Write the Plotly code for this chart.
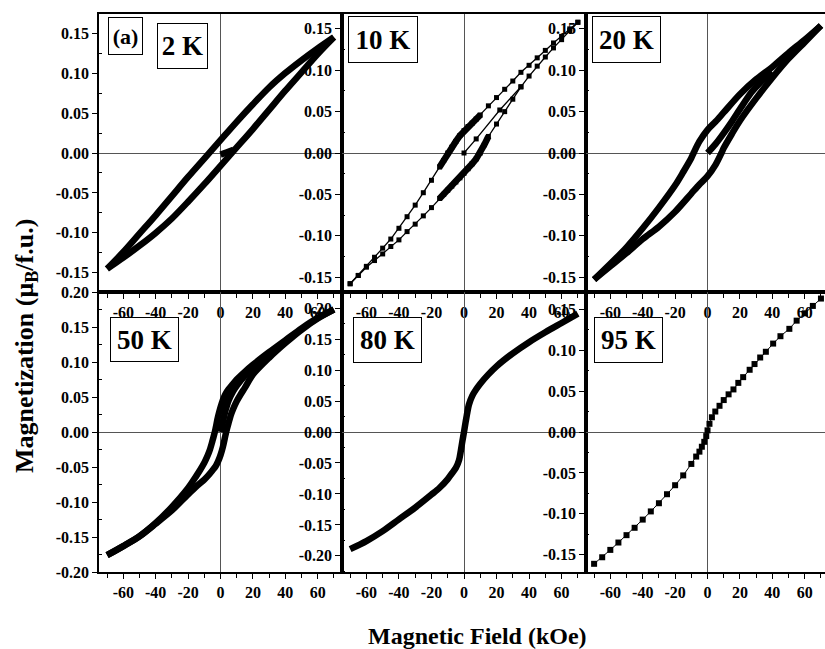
import plotly.graph_objects as go
from plotly.subplots import make_subplots

# ---------------- data ----------------
# 2 K
h2_down = [70, 60, 50, 40, 30, 20, 10, 0, -10, -20, -30, -40, -50, -60, -70]
m2_down = [0.145, 0.131, 0.116, 0.100, 0.082, 0.061, 0.039, 0.016, -0.007, -0.030,
           -0.054, -0.078, -0.101, -0.124, -0.145]
h2_up = [-70, -60, -50, -40, -30, -20, -10, 0, 10, 20, 30, 40, 50, 60, 70]
m2_up = [-0.145, -0.131, -0.116, -0.100, -0.082, -0.061, -0.039, -0.016, 0.007, 0.030,
         0.054, 0.078, 0.101, 0.124, 0.145]
h2_virgin = [0, 4, 8]
m2_virgin = [-0.002, 0.001, 0.004]

# 10 K
h10_down = [70, 65, 60, 55, 50, 45, 40, 35, 30, 25, 20, 15, 10, 7.5, 5, 2.5, 0, -2.5, -5,
            -7.5, -10, -12.5, -15, -20, -25, -30, -35, -40, -45, -50, -55, -60, -65, -70]
m10_down = [0.158, 0.150, 0.141, 0.133, 0.124, 0.115, 0.106, 0.0975, 0.087, 0.077, 0.067,
            0.057, 0.046, 0.041, 0.036, 0.032, 0.027, 0.021, 0.014, 0.007, 0.000, -0.009,
            -0.017, -0.033, -0.048, -0.063, -0.077, -0.091, -0.104, -0.115, -0.126, -0.137,
            -0.148, -0.158]
h10_up = [-70, -65, -60, -55, -50, -45, -40, -35, -30, -25, -20, -15, -12.5, -10, -7.5, -5,
          -2.5, 0, 2.5, 5, 7.5, 10, 12.5, 15, 20, 25, 30, 35, 40, 45, 50, 55, 60, 65, 70]
m10_up = [-0.158, -0.148, -0.138, -0.130, -0.122, -0.113, -0.105, -0.095, -0.086, -0.076,
          -0.066, -0.055, -0.050, -0.045, -0.040, -0.035, -0.030, -0.0245, -0.019, -0.013,
          -0.007, 0.000, 0.010, 0.020, 0.035, 0.050, 0.065, 0.080, 0.093, 0.105, 0.116,
          0.127, 0.137, 0.148, 0.158]
h10_virgin = [0, 7.5, 22, 35]
m10_virgin = [0.0, 0.017, 0.052, 0.080]

# 20 K
h20_down = [70, 60, 50, 40, 30, 20, 10, 5, 0, -5, -8.6, -10, -15, -20, -30, -40, -50, -60, -70]
m20_down = [0.154, 0.137, 0.121, 0.104, 0.089, 0.071, 0.049, 0.038, 0.028, 0.014, 0.000,
            -0.006, -0.023, -0.039, -0.066, -0.091, -0.114, -0.134, -0.153]
h20_up = [-70, -60, -50, -40, -30, -20, -10, -5, 0, 5, 8.6, 10, 15, 20, 30, 40, 50, 60, 70]
m20_up = [-0.153, -0.137, -0.121, -0.104, -0.089, -0.071, -0.049, -0.038, -0.028, -0.014,
          0.000, 0.006, 0.023, 0.039, 0.066, 0.091, 0.114, 0.134, 0.154]
h20_virgin = [0, 5, 10, 15, 20, 27, 33, 40]
m20_virgin = [0.0, 0.011, 0.024, 0.038, 0.053, 0.073, 0.086, 0.098]

# 50 K
h50_down = [70, 60, 50, 40, 30, 20, 15, 10, 7.5, 5, 3, 1.5, 0, -1.5, -3.5, -5, -6.5, -8, -10,
            -12.5, -15, -20, -30, -40, -50, -60, -70]
m50_down = [0.175, 0.163, 0.148, 0.131, 0.114, 0.096, 0.086, 0.075, 0.068, 0.061, 0.054,
            0.046, 0.035, 0.022, 0.000, -0.013, -0.025, -0.034, -0.044, -0.054, -0.063,
            -0.080, -0.107, -0.130, -0.149, -0.163, -0.176]
h50_up = [-70, -60, -50, -40, -30, -20, -15, -10, -7.5, -5, -3, -1.5, 0, 1.5, 3.5, 5, 6.5,
          8, 10, 12.5, 15, 20, 30, 40, 50, 60, 70]
m50_up = [-0.176, -0.163, -0.149, -0.131, -0.112, -0.089, -0.078, -0.068, -0.062, -0.055,
          -0.049, -0.042, -0.033, -0.021, 0.000, 0.013, 0.025, 0.034, 0.044, 0.054,
          0.063, 0.082, 0.106, 0.127, 0.146, 0.162, 0.175]
h50_virgin = [0, 1.5, 3, 5, 7.5, 10, 15, 20, 30]
m50_virgin = [0.0, 0.015, 0.030, 0.045, 0.057, 0.066, 0.080, 0.090, 0.110]

# 80 K
h80 = [-70, -60, -50, -40, -30, -20, -15, -10, -7.5, -5, -3, -2, -1, 0, 1, 2, 3, 5, 7.5, 10,
       15, 20, 30, 40, 50, 60, 70]
m80 = [-0.189, -0.176, -0.160, -0.141, -0.122, -0.101, -0.090, -0.076, -0.067, -0.058,
       -0.045, -0.031, -0.015, 0.000, 0.016, 0.031, 0.044, 0.058, 0.069, 0.078, 0.093,
       0.106, 0.127, 0.145, 0.161, 0.176, 0.191]

# 95 K
h95 = [-70, -65, -60, -55, -50, -45, -40, -35, -30, -25, -20, -15, -10, -7, -5, -3.5, -2,
       -0.8, 0, 1.2, 2.7, 4.8, 7.4, 10, 13, 16, 19, 22, 26, 29, 32.5, 36, 40.5, 45, 50.5,
       55, 60, 65, 70]
m95 = [-0.161, -0.153, -0.144, -0.135, -0.126, -0.117, -0.107, -0.097, -0.087, -0.076,
       -0.065, -0.053, -0.039, -0.030, -0.024, -0.018, -0.012, -0.005, 0.002, 0.010, 0.018,
       0.025, 0.032, 0.039, 0.046, 0.052, 0.060, 0.067, 0.076, 0.083, 0.091, 0.098, 0.108,
       0.117, 0.126, 0.136, 0.145, 0.154, 0.163]

panel_labels = ["2 K", "10 K", "20 K", "50 K", "80 K", "95 K"]

x_tick_vals = [-60, -40, -20, 0, 20, 40, 60]
x_tick_text = ["-60", "-40", "-20", "0", "20", "40", "60"]
x_minor_vals = [-70, -50, -30, -10, 10, 30, 50, 70]
y_tick_vals_15 = [-0.15, -0.10, -0.05, 0.00, 0.05, 0.10, 0.15]
y_tick_text_15 = ["-0.15", "-0.10", "-0.05", "0.00", "0.05", "0.10", "0.15"]
y_tick_vals_20 = [-0.20, -0.15, -0.10, -0.05, 0.00, 0.05, 0.10, 0.15, 0.20]
y_tick_text_20 = ["-0.20", "-0.15", "-0.10", "-0.05", "0.00", "0.05", "0.10", "0.15", "0.20"]
y_minor_vals = [-0.225, -0.175, -0.125, -0.075, -0.025, 0.025, 0.075, 0.125, 0.175, 0.225]

x_title = "Magnetic Field (kOe)"
y_title = "Magnetization (\u03bc<sub>B</sub>/f.u.)"

# ---------------- figure ----------------
W, H = 825, 649
L, R, T, B = 99, 0, 14, 77
FONT = "Times New Roman, Liberation Serif, Times, serif"

fig = make_subplots(rows=2, cols=3, horizontal_spacing=0, vertical_spacing=0,
                    column_widths=[243, 244, 239], row_heights=[278, 280])

thick = dict(color="black", width=6.5, shape="spline", smoothing=0.8)


def band(r, c, xs, ys):
    fig.add_trace(go.Scatter(x=xs, y=ys, mode="lines", line=thick, hoverinfo="skip"),
                  row=r, col=c)


def dotted(r, c, xs, ys, size=5, lw=1.3):
    fig.add_trace(go.Scatter(x=xs, y=ys, mode="lines+markers",
                             line=dict(color="black", width=lw),
                             marker=dict(symbol="square", size=size, color="black"),
                             hoverinfo="skip"), row=r, col=c)


# 2 K
band(1, 1, h2_virgin, m2_virgin)
band(1, 1, h2_down, m2_down)
band(1, 1, h2_up, m2_up)

# 10 K (sparse markers + dense central segments)
dotted(1, 2, h10_virgin, m10_virgin)
dotted(1, 2, h10_down, m10_down)
dotted(1, 2, h10_up, m10_up)
dd = [(h, m) for h, m in zip(h10_down, m10_down) if -15 <= h <= 10]
du = [(h, m) for h, m in zip(h10_up, m10_up) if -15 <= h <= 15]
for seg in (dd, du):
    fig.add_trace(go.Scatter(x=[p[0] for p in seg], y=[p[1] for p in seg], mode="lines",
                             line=dict(color="black", width=6.5), hoverinfo="skip"),
                  row=1, col=2)

# 20 K
band(1, 3, h20_virgin, m20_virgin)
band(1, 3, h20_down, m20_down)
band(1, 3, h20_up, m20_up)

# 50 K
band(2, 1, h50_virgin, m50_virgin)
band(2, 1, h50_down, m50_down)
band(2, 1, h50_up, m50_up)

# 80 K
band(2, 2, h80, m80)

# 95 K
dotted(2, 3, h95, m95, size=6, lw=1)

tickfont = dict(family=FONT, size=16, color="black", weight="bold")

y_ranges = {(1, 1): 0.174, (1, 2): 0.168, (1, 3): 0.168,
            (2, 1): 0.2000001, (2, 2): 0.226, (2, 3): 0.171}
x_ranges = {1: [-75, 75], 2: [-75, 75], 3: [-75, 72.5]}

for (r, c), yr in y_ranges.items():
    big = (r, c) in [(2, 1), (2, 2)]
    fig.update_xaxes(row=r, col=c, range=x_ranges[c], tickmode="array",
                     tickvals=x_tick_vals, ticktext=x_tick_text, ticks="outside",
                     ticklen=5, tickwidth=1, tickcolor="black", tickfont=tickfont,
                     showline=True, linecolor="black", linewidth=1.5, mirror=True,
                     showgrid=False, zeroline=True, zerolinecolor="#555",
                     zerolinewidth=1,
                     minor=dict(tickvals=x_minor_vals, ticks="outside", ticklen=4,
                                tickcolor="black", tickwidth=1, showgrid=False))
    fig.update_yaxes(row=r, col=c, range=[-yr, yr], tickmode="array",
                     tickvals=y_tick_vals_20 if big else y_tick_vals_15,
                     ticktext=y_tick_text_20 if big else y_tick_text_15,
                     ticks="outside", ticklen=5, tickwidth=1, tickcolor="black",
                     tickfont=tickfont, showline=True, linecolor="black", linewidth=1.5,
                     mirror=(c != 3), showgrid=False, zeroline=True,
                     zerolinecolor="#555", zerolinewidth=1,
                     minor=dict(tickvals=y_minor_vals, ticks="inside", ticklen=3,
                                tickcolor="black", tickwidth=1, showgrid=False))


def px(x):
    return (x - L) / (W - L - R)


def py(y):
    return (H - B - y) / (H - T - B)


# panel label boxes: (centre x, centre y, box width, box height) in pixels
label_boxes = [(182.5, 46, 51, 46), (383, 39.5, 70, 47), (626.5, 39.5, 69, 47),
               (144.5, 339.5, 69, 45), (387.5, 340, 69, 46), (628.5, 340, 69, 46)]
annotations = []
for txt, (cx, cy, bw, bh) in zip(panel_labels, label_boxes):
    annotations.append(dict(text=txt, x=px(cx), y=py(cy), xref="paper", yref="paper",
                            xanchor="center", yanchor="middle", showarrow=False,
                            width=bw - 2, height=bh - 2, align="center", valign="middle",
                            font=dict(family=FONT, size=27, color="black", weight="bold"),
                            bordercolor="black", borderwidth=1, borderpad=0,
                            bgcolor="white"))
annotations.append(dict(text="(a)", x=px(125.5), y=py(36), xref="paper", yref="paper",
                        xanchor="center", yanchor="middle", showarrow=False,
                        width=33, height=36, align="center", valign="middle",
                        font=dict(family=FONT, size=22, color="black", weight="bold"),
                        bordercolor="black", borderwidth=1, borderpad=0, bgcolor="white"))
annotations.append(dict(text=x_title, x=px(477), y=py(636), xref="paper", yref="paper",
                        xanchor="center", yanchor="middle", showarrow=False,
                        font=dict(family=FONT, size=24, color="black", weight="bold")))
annotations.append(dict(text=y_title, x=px(26), y=py(346), xref="paper", yref="paper",
                        xanchor="center", yanchor="middle", showarrow=False, textangle=-90,
                        font=dict(family=FONT, size=26, color="black", weight="bold")))

fig.update_layout(width=W, height=H, margin=dict(l=L, r=R, t=T, b=B),
                  paper_bgcolor="white", plot_bgcolor="white", showlegend=False,
                  annotations=annotations)

fig.write_html("out.html", config={"displayModeBar": False},
               post_script="document.body.style.margin='0px';document.body.style.overflow='hidden';")
